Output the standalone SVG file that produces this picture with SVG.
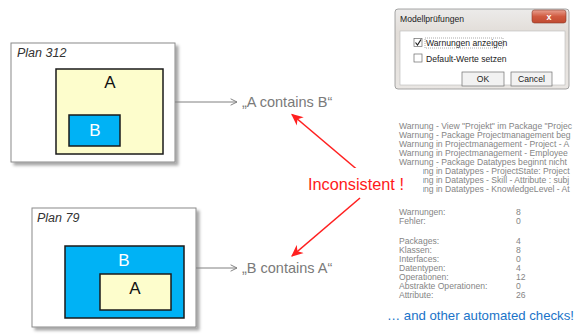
<svg xmlns="http://www.w3.org/2000/svg" width="575" height="336" viewBox="0 0 575 336">
  <style>
    .frame { fill: #ffffff; stroke: #8a8a8a; stroke-width: 1; }
    .boxA { fill: #fdfdcc; stroke: #1a1a1a; stroke-width: 1.5; }
    .boxB { fill: #00b2f5; stroke: #1a1a1a; stroke-width: 1.5; }
    .plan { font-family: "Liberation Sans", Arial, sans-serif; font-style: italic; font-size: 12.5px; fill: #333333; }
    .big { font-family: "Liberation Sans", Arial, sans-serif; font-size: 17px; text-anchor: middle; }
    .claim { font-family: "Liberation Sans", Arial, sans-serif; font-size: 14.5px; fill: #7a7a7a; }
    .incons { font-family: "Liberation Sans", Arial, sans-serif; font-size: 16.3px; fill: #ff1a1a; }
    .gray { stroke: #808080; stroke-width: 1; fill: none; }
    .red { stroke: #ff2020; stroke-width: 1.6; fill: none; }
    .dlg { font-family: "Liberation Sans", Arial, sans-serif; font-size: 8.6px; fill: #222222; }
    .log { font-family: "Liberation Sans", Arial, sans-serif; font-size: 8.6px; fill: #858585; }
    .more { font-family: "Liberation Sans", Arial, sans-serif; font-size: 13.2px; fill: #1a73c8; }
  </style>
  <defs>
    <filter id="shadow" x="-10%" y="-10%" width="125%" height="130%">
      <feDropShadow dx="3" dy="3" stdDeviation="1.5" flood-color="#000000" flood-opacity="0.35"/>
    </filter>
    <marker id="grayHead" viewBox="0 0 10 10" refX="9" refY="5" markerWidth="8" markerHeight="8" markerUnits="userSpaceOnUse" orient="auto">
      <path d="M1,1 L9,5 L1,9" fill="none" stroke="#808080" stroke-width="1.2"/>
    </marker>
    <marker id="redHead" viewBox="0 0 10 10" refX="9" refY="5" markerWidth="12" markerHeight="12" markerUnits="userSpaceOnUse" orient="auto">
      <path d="M0,0.5 L10,5 L0,9.5 L3,5 Z" fill="#ff2020"/>
    </marker>
    <linearGradient id="dlgFrame" x1="0" y1="0" x2="0" y2="1">
      <stop offset="0" stop-color="#ecebea"/>
      <stop offset="0.3" stop-color="#e2ddd8"/>
      <stop offset="1" stop-color="#e9e6e3"/>
    </linearGradient>
    <linearGradient id="closeBtn" x1="0" y1="0" x2="0" y2="1">
      <stop offset="0" stop-color="#e8a090"/>
      <stop offset="0.5" stop-color="#d05a40"/>
      <stop offset="1" stop-color="#c04a30"/>
    </linearGradient>
  </defs>

  <!-- plan 312: A contains B -->
  <g id="plan312">
    <rect class="frame" x="11" y="43" width="164" height="119" filter="url(#shadow)"/>
    <text class="plan" x="17" y="57">Plan 312</text>
    <rect class="boxA" x="56" y="69" width="107" height="85"/>
    <text class="big" x="110" y="88" fill="#111111">A</text>
    <rect class="boxB" x="69" y="115" width="51" height="31"/>
    <text class="big" x="95" y="136" fill="#ffffff">B</text>
  </g>

  <!-- plan 79: B contains A -->
  <g id="plan79">
    <rect class="frame" x="32" y="208" width="164" height="119" filter="url(#shadow)"/>
    <text class="plan" x="37" y="222">Plan 79</text>
    <rect class="boxB" x="65" y="246" width="119" height="72"/>
    <text class="big" x="124" y="266" fill="#ffffff">B</text>
    <rect class="boxA" x="100" y="274" width="71" height="36"/>
    <text class="big" x="135" y="294" fill="#111111">A</text>
  </g>

  <g id="claims">
    <text class="claim" x="242" y="107">„A contains B“</text>
    <text class="claim" x="242" y="273">„B contains A“</text>
  </g>

  <!-- check log and statistics -->
  <g id="log">
    <text class="log" x="399" y="129">Warnung - View "Projekt" im Package "Projec</text>
    <text class="log" x="399" y="138">Warnung - Package Projectmanagement beg</text>
    <text class="log" x="399" y="147">Warnung in Projectmanagement - Project - A</text>
    <text class="log" x="399" y="156">Warnung in Projectmanagement - Employee</text>
    <text class="log" x="399" y="165">Warnung - Package Datatypes beginnt nicht</text>
    <text class="log" x="399" y="174">Warnung in Datatypes - ProjectState: Project</text>
    <text class="log" x="399" y="183">Warnung in Datatypes - Skill - Attribute : subj</text>
    <text class="log" x="399" y="192">Warnung in Datatypes - KnowledgeLevel - At</text>

    <text class="log" x="399" y="215">Warnungen:</text>
    <text class="log" x="516" y="215">8</text>
    <text class="log" x="399" y="224">Fehler:</text>
    <text class="log" x="516" y="224">0</text>

    <text class="log" x="399" y="244">Packages:</text>
    <text class="log" x="516" y="244">4</text>
    <text class="log" x="399" y="253">Klassen:</text>
    <text class="log" x="516" y="253">8</text>
    <text class="log" x="399" y="262">Interfaces:</text>
    <text class="log" x="516" y="262">0</text>
    <text class="log" x="399" y="271">Datentypen:</text>
    <text class="log" x="516" y="271">4</text>
    <text class="log" x="399" y="280">Operationen:</text>
    <text class="log" x="516" y="280">12</text>
    <text class="log" x="399" y="289">Abstrakte Operationen:</text>
    <text class="log" x="516" y="289">0</text>
    <text class="log" x="399" y="298">Attribute:</text>
    <text class="log" x="516" y="298">26</text>
  </g>

  <g id="more">
    <text class="more" x="387" y="320">… and other automated checks!</text>
  </g>

  <!-- dialog: Modellprüfungen -->
  <g id="dialog">
    <rect x="395" y="9" width="174" height="80" rx="3" fill="url(#dlgFrame)" stroke="#8f8f8f" stroke-width="0.8"/>
    <text class="dlg" x="400" y="22" font-size="9.5px" fill="#1a1a1a">Modellprüfungen</text>
    <rect x="532" y="10" width="34" height="13" rx="2.5" fill="url(#closeBtn)" stroke="#8a3a2a" stroke-width="0.6"/>
    <text x="549" y="20" font-family="Liberation Sans, Arial, sans-serif" font-size="9px" font-weight="bold" fill="#ffffff" text-anchor="middle">x</text>
    <rect x="400" y="31" width="165" height="54" fill="#ffffff" stroke="#b8b8b8" stroke-width="0.6"/>
    <rect x="414" y="38.5" width="8" height="8" fill="#ffffff" stroke="#6a6a6a" stroke-width="0.7"/>
    <path d="M415.5,42.5 L417.5,45 L421,39.5" fill="none" stroke="#222222" stroke-width="1.2"/>
    <text class="dlg" x="426" y="46">Warnungen anzeigen</text>
    <rect x="425" y="38" width="78" height="10" fill="none" stroke="#555555" stroke-width="0.5" stroke-dasharray="1,1"/>
    <rect x="414" y="54" width="8" height="8" fill="#ffffff" stroke="#6a6a6a" stroke-width="0.7"/>
    <text class="dlg" x="426" y="62">Default-Werte setzen</text>
    <rect x="462" y="72" width="42" height="14" fill="#f2f2f2" stroke="#707070" stroke-width="0.7"/>
    <text class="dlg" x="483" y="82" text-anchor="middle">OK</text>
    <rect x="511" y="72" width="41" height="14" fill="#f2f2f2" stroke="#707070" stroke-width="0.7"/>
    <text class="dlg" x="531.5" y="82" text-anchor="middle">Cancel</text>
  </g>

  <!-- connectors -->
  <g id="connectors">
    <line class="gray" x1="175" y1="102" x2="237" y2="102" marker-end="url(#grayHead)"/>
    <line class="gray" x1="196" y1="268" x2="237" y2="268" marker-end="url(#grayHead)"/>
    <line class="red" x1="360" y1="172" x2="292" y2="114.5" marker-end="url(#redHead)"/>
    <line class="red" x1="360" y1="198" x2="292" y2="256" marker-end="url(#redHead)"/>
  </g>

  <g id="verdict">
    <rect x="303" y="168" width="120" height="28" fill="#ffffff"/>
    <text class="incons" x="308" y="190">Inconsistent !</text>
  </g>
</svg>
